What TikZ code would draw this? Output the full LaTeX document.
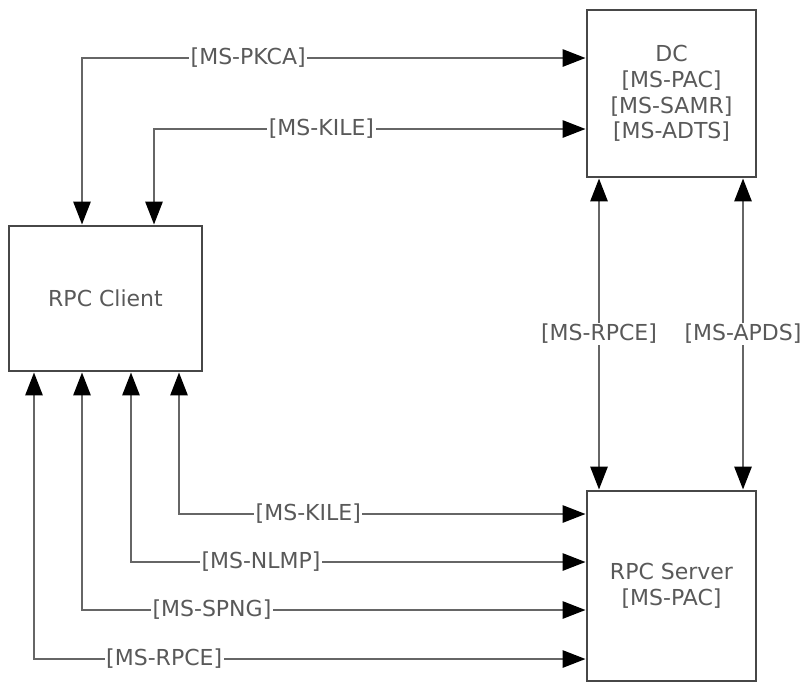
\documentclass[tikz,border=0pt]{standalone}
\usepackage{fontspec}
\setmainfont{DejaVu Sans}
\usetikzlibrary{arrows.meta,positioning}
\tikzset{
  blk/.style={draw=black!72,line width=2.8pt,rectangle,align=center,text=black!65,inner sep=0pt,font=\fontsize{22}{25.7}\selectfont},
  lbl/.style={fill=white,text=black!65,inner sep=1.5pt,font=\fontsize{22}{25.7}\selectfont},
  dbl/.style={draw=black!60,line width=2.8pt,{Triangle[length=23pt,width=17pt,color=black]}-{Triangle[length=23pt,width=17pt,color=black]}}
}
\begin{document}
\begin{tikzpicture}[x=1pt,y=-1pt]
  \useasboundingbox (0,0) rectangle (802,683);

  \node[blk,minimum width=193pt,minimum height=145pt] (client) at (105.5,298.5) {RPC Client};
  \node[blk,minimum width=169pt,minimum height=167pt] (dc) at (671.5,93.5) {DC\\{[MS-PAC]}\\{[MS-SAMR]}\\{[MS-ADTS]}};
  \node[blk,minimum width=169pt,minimum height=190pt] (server) at (671.5,586) {RPC Server\\{[MS-PAC]}};

  % lanes
  \coordinate (pkca) at (82,58);
  \coordinate (kileup) at (154,129);
  \coordinate (rpcev) at (599,0);
  \coordinate (apds) at (743,0);
  \coordinate (kile) at (179,514);
  \coordinate (nlmp) at (131,562);
  \coordinate (spng) at (82,610);
  \coordinate (rpce) at (34,659);

  \draw[dbl] (client.north -| pkca) |- node[lbl,pos=0.665] {[MS-PKCA]} (dc.west |- pkca);
  \draw[dbl] (client.north -| kileup) |- node[lbl,pos=0.694] {[MS-KILE]} (dc.west |- kileup);

  \draw[dbl] (dc.south -| rpcev) -- node[lbl] {[MS-RPCE]} (server.north -| rpcev);
  \draw[dbl] (dc.south -| apds) -- node[lbl] {[MS-APDS]} (server.north -| apds);

  \draw[dbl] (client.south -| kile) |- node[lbl,pos=0.659] {[MS-KILE]} (server.west |- kile);
  \draw[dbl] (client.south -| nlmp) |- node[lbl,pos=0.643] {[MS-NLMP]} (server.west |- nlmp);
  \draw[dbl] (client.south -| spng) |- node[lbl,pos=0.629] {[MS-SPNG]} (server.west |- spng);
  \draw[dbl] (client.south -| rpce) |- node[lbl,pos=0.618] {[MS-RPCE]} (server.west |- rpce);
\end{tikzpicture}
\end{document}
